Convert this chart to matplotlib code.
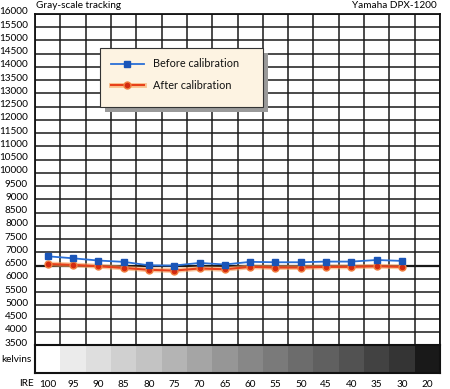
import matplotlib.pyplot as plt
import matplotlib.transforms as mtransforms
from matplotlib.patches import Rectangle

plt.rcParams['font.family'] = ['Lato', 'DejaVu Sans']

ire = ['100', '95', '90', '85', '80', '75', '70', '65', '60', '55',
       '50', '45', '40', '35', '30', '20']
before = [6850, 6775, 6690, 6640, 6510, 6500, 6600, 6540, 6640, 6625,
          6625, 6650, 6650, 6710, 6675]
after = [6560, 6525, 6475, 6410, 6340, 6310, 6390, 6360, 6450, 6425,
         6425, 6450, 6450, 6475, 6450]
grays = [255, 235, 222, 208, 195, 180, 165, 150, 135, 122,
         108, 96, 82, 66, 52, 25]
yticks = list(range(3500, 16001, 500))

fig = plt.figure(figsize=(4.5, 3.89), dpi=100)
ax = fig.add_axes([35/450, 44/389, 405/450, 331/389])
ax.set_xlim(0, 16)
ax.set_ylim(3500, 16000)

for i in range(17):
    ax.axvline(i, color='#1a1a1a', lw=1.1, zorder=1)
for v in yticks:
    lw = 1.6 if v == 6500 else 1.1
    ax.axhline(v, color='#1a1a1a', lw=lw, zorder=1)

xs = [i + 0.5 for i in range(len(before))]
ax.plot(xs, after, color='#f7a35c', lw=3.5, alpha=0.6, zorder=3, solid_capstyle='round')
ax.plot(xs, after, color='#e8401a', lw=1.5, marker='o', ms=5,
        mfc='#d42a10', mec='#f08040', mew=1, zorder=4)
ax.plot(xs, before, color='#2a6fd6', lw=1.3, marker='s', ms=4.5,
        mfc='#1a55b8', mec='#1a55b8', zorder=5)

ax.set_xticks([])
ax.set_yticks(yticks)
ax.set_yticklabels([str(v) for v in yticks], fontsize=7.2)
ax.tick_params(axis='y', length=0, pad=5)
off = mtransforms.ScaledTranslation(0, 3/100, fig.dpi_scale_trans)
for lab in ax.get_yticklabels():
    lab.set_transform(lab.get_transform() + off)
for s in ax.spines.values():
    s.set_linewidth(1.3)
    s.set_color('#111111')

# legend box with shadow
shadow = Rectangle((0.173, 0.705), 0.402, 0.176, transform=ax.transAxes,
                   facecolor='#9a9a9a', edgecolor='none', zorder=6)
ax.add_patch(shadow)
box = Rectangle((0.161, 0.72), 0.402, 0.176, transform=ax.transAxes,
                facecolor='#fdf3e2', edgecolor='#333333', lw=0.8, zorder=7)
ax.add_patch(box)
ax.plot([0.188, 0.269], [0.849, 0.849], transform=ax.transAxes, color='#2a6fd6',
        lw=1.3, zorder=8)
ax.plot([0.228], [0.849], transform=ax.transAxes, marker='s', ms=4,
        color='#1a55b8', zorder=8)
ax.plot([0.188, 0.269], [0.785, 0.785], transform=ax.transAxes, color='#f7a35c',
        lw=3.5, alpha=0.6, zorder=8)
ax.plot([0.188, 0.269], [0.785, 0.785], transform=ax.transAxes, color='#e8401a',
        lw=1.5, zorder=8)
ax.plot([0.228], [0.785], transform=ax.transAxes, marker='o', ms=5,
        mfc='#d42a10', mec='#f08040', zorder=8)
ax.text(0.291, 0.849, 'Before calibration', transform=ax.transAxes,
        fontsize=7.8, va='center', zorder=9, color='#111111')
ax.text(0.291, 0.785, 'After calibration', transform=ax.transAxes,
        fontsize=7.8, va='center', zorder=9, color='#111111')

fig.text(36/450, 1 - 6/389, 'Gray-scale tracking', fontsize=7.2, va='center')
fig.text(437/450, 1 - 6/389, 'Yamaha DPX-1200', fontsize=7.2, va='center', ha='right')

# gray strip
sx = fig.add_axes([35/450, 16/389, 405/450, 28/389])
sx.set_xlim(0, 16)
sx.set_ylim(0, 1)
for i, g in enumerate(grays):
    c = '#%02x%02x%02x' % (g, g, g)
    sx.bar(i, 1, width=1, align='edge', color=c, edgecolor='none')
sx.set_xticks([i + 0.5 for i in range(16)])
sx.set_xticklabels(ire, fontsize=7.2)
sx.tick_params(axis='x', length=0, pad=5)
sx.set_yticks([])
for s in sx.spines.values():
    s.set_linewidth(1.5)
    s.set_color('#111111')
fig.text(1/450, 1 - 359/389, 'kelvins', fontsize=7.2, va='center')
fig.text(19/450, 1 - 383/389, 'IRE', fontsize=7.2, va='center')

fig.savefig('out.png', dpi=100)
